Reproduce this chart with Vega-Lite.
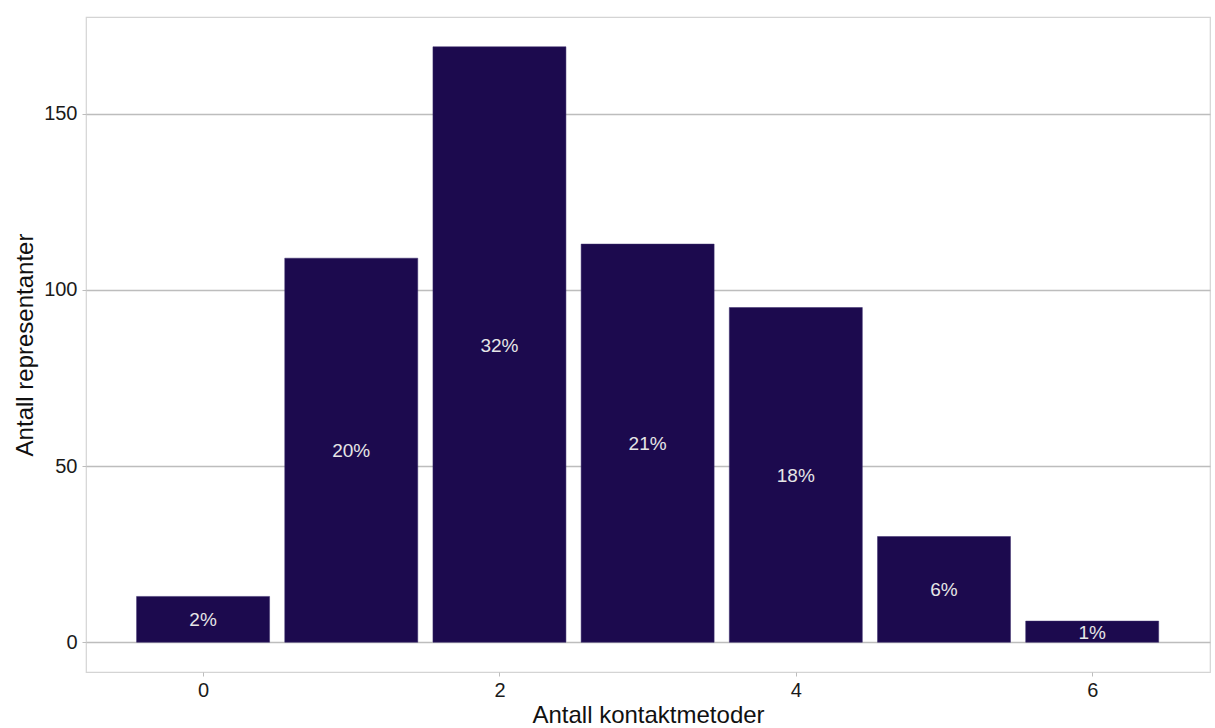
{
  "$schema": "https://vega.github.io/schema/vega-lite/v6.json",
  "width": 1124,
  "height": 655,
  "autosize": {"type": "none"},
  "padding": {"left": 86, "top": 17, "right": 5, "bottom": 56},
  "background": "white",
  "config": {
    "font": "Liberation Sans",
    "view": {"stroke": "#d4d4d4", "strokeWidth": 1.2}
  },
  "data": {
    "values": [
      {"k": 0, "n": 13, "pct": "2%"},
      {"k": 1, "n": 109, "pct": "20%"},
      {"k": 2, "n": 169, "pct": "32%"},
      {"k": 3, "n": 113, "pct": "21%"},
      {"k": 4, "n": 95, "pct": "18%"},
      {"k": 5, "n": 30, "pct": "6%"},
      {"k": 6, "n": 6, "pct": "1%"}
    ]
  },
  "encoding": {
    "x": {
      "field": "k",
      "type": "quantitative",
      "scale": {"domain": [-0.79, 6.795], "nice": false, "zero": false, "padding": 0},
      "axis": {
        "values": [0, 2, 4, 6],
        "grid": false,
        "domain": false,
        "tickColor": "#bdbdbd",
        "tickSize": 4,
        "tickWidth": 1,
        "labelFontSize": 20,
        "labelColor": "#1a1a1a",
        "labelPadding": 4,
        "title": "Antall kontaktmetoder",
        "titleFontSize": 24,
        "titleFontWeight": "normal",
        "titleColor": "#111111",
        "titlePadding": 3
      }
    }
  },
  "layer": [
    {
      "mark": {"type": "bar", "width": 133, "color": "#1c0a4e", "stroke": "#3a2c6c", "strokeWidth": 0.5},
      "encoding": {
        "y": {
          "field": "n",
          "type": "quantitative",
          "scale": {"domain": [-8.45, 177.45], "nice": false, "zero": false, "padding": 0},
          "axis": {
            "values": [0, 50, 100, 150],
            "grid": true,
            "gridColor": "#bdbdbd",
            "gridWidth": 1.4,
            "domain": false,
            "tickColor": "#bdbdbd",
            "tickSize": 4,
            "tickWidth": 1,
            "labelFontSize": 20,
            "labelColor": "#1a1a1a",
            "labelPadding": 5,
            "title": "Antall representanter",
            "titleFontSize": 24,
            "titleFontWeight": "normal",
            "titleColor": "#111111",
            "titlePadding": 6
          }
        },
        "y2": {"datum": 0}
      }
    },
    {
      "transform": [{"calculate": "datum.n / 2", "as": "mid"}],
      "mark": {"type": "text", "fontSize": 19, "color": "#e6e6e6", "baseline": "middle", "align": "center", "dy": 1},
      "encoding": {
        "y": {"field": "mid", "type": "quantitative"},
        "text": {"field": "pct", "type": "nominal"}
      }
    }
  ]
}
